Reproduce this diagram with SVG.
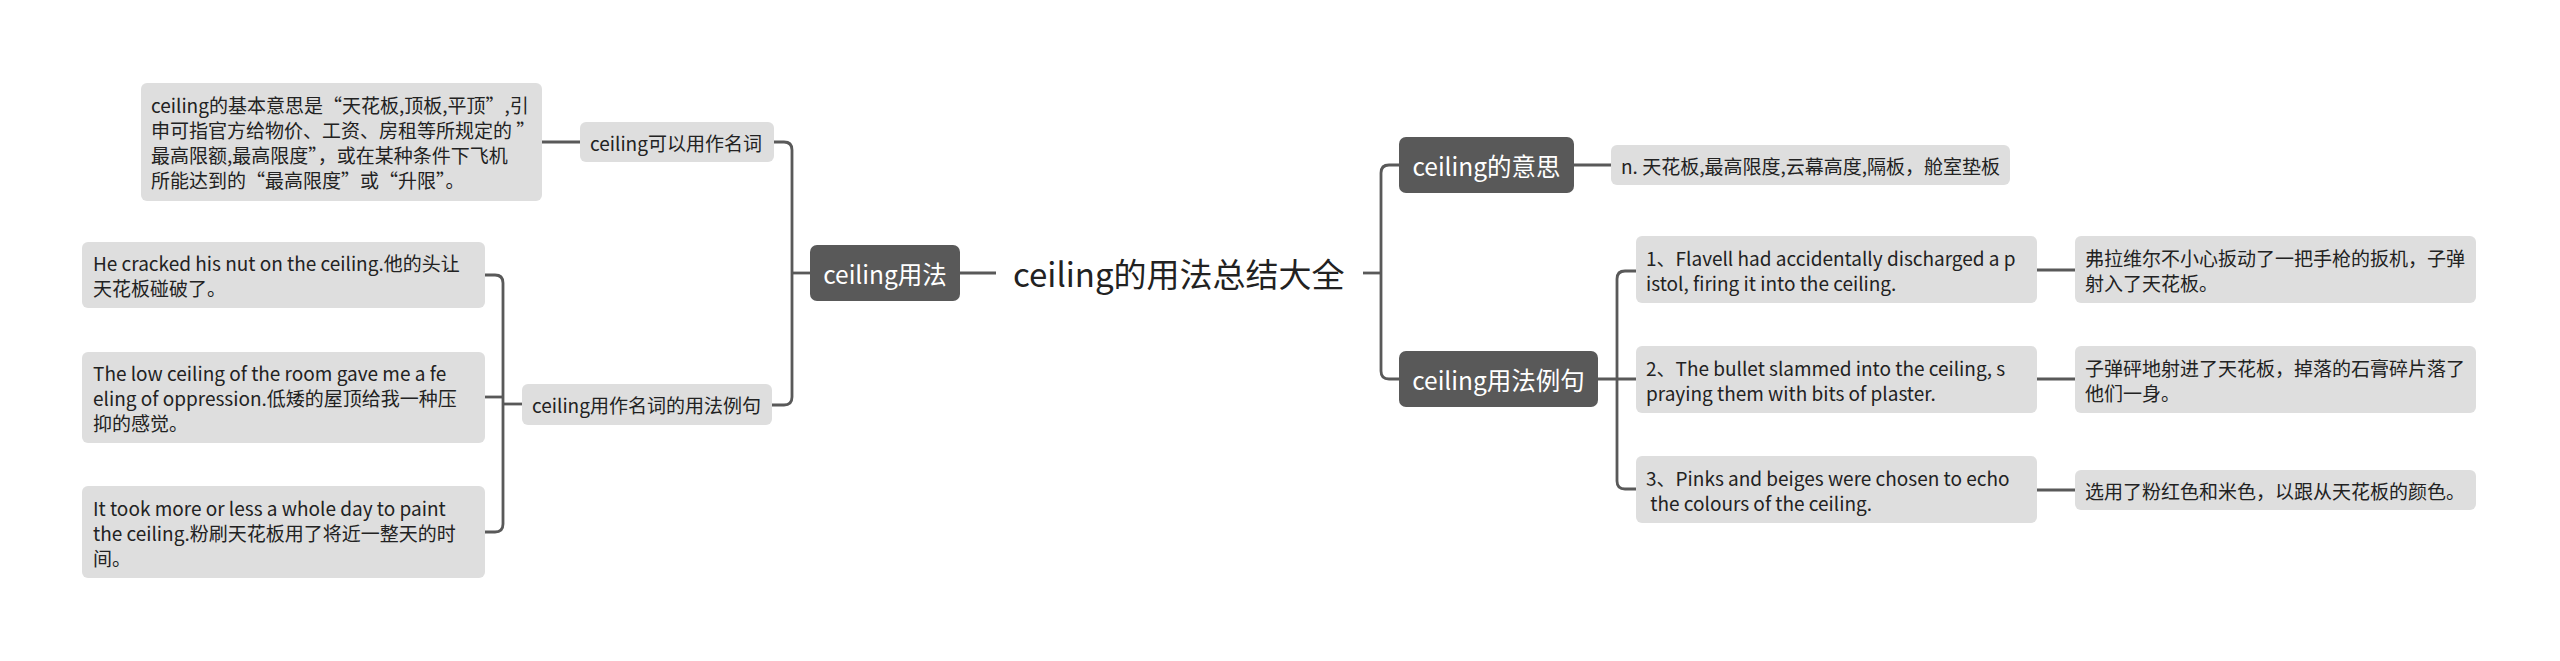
<svg xmlns="http://www.w3.org/2000/svg" width="2560" height="661" viewBox="0 0 2560 661">
<style>
.t{font-family:"Noto Sans CJK SC","Noto Sans",sans-serif;dominant-baseline:central}
.lb{fill:#dedede}
.db{fill:#595959}
.lt{font-size:19px;fill:#222}
.dt{font-size:24.5px;fill:#fff;text-anchor:middle}
.ct{font-size:33px;fill:#222}
.c{fill:none;stroke:#595959;stroke-width:2.8}
</style>
<rect width="2560" height="661" fill="#fff"/>
<g id="connectors">
<path class="c" d="M960,273 H996"/>
<path class="c" d="M1363,273 H1381"/>
<path class="c" d="M810,273 H792"/>
<path class="c" d="M792,273 V150 Q792,142 784,142 H774"/>
<path class="c" d="M792,273 V397 Q792,405 784,405 H772"/>
<path class="c" d="M580,142 H542"/>
<path class="c" d="M522,404 H503"/>
<path class="c" d="M503,404 V283 Q503,275 495,275 H485"/>
<path class="c" d="M503,397 H485"/>
<path class="c" d="M503,404 V524 Q503,532 495,532 H485"/>
<path class="c" d="M1381,273 V173 Q1381,165 1389,165 H1399"/>
<path class="c" d="M1381,273 V371 Q1381,379 1389,379 H1399"/>
<path class="c" d="M1574,165 H1611"/>
<path class="c" d="M1598,379 H1636"/>
<path class="c" d="M1617,379 V279 Q1617,271 1625,271 H1636"/>
<path class="c" d="M1617,379 V481 Q1617,489 1625,489 H1636"/>
<path class="c" d="M2037,270 H2075"/>
<path class="c" d="M2037,379 H2075"/>
<path class="c" d="M2037,490 H2075"/>
</g>
<g id="root"><text class="t ct" x="1013" y="273">ceiling的用法总结大全</text></g>
<g id="n-usage"><rect class="db" x="810" y="245" width="150" height="56" rx="7"/><text class="t dt" x="885" y="273">ceiling用法</text></g>
<g id="n-noun"><rect class="lb" x="580" y="122" width="194" height="40" rx="6"/><text class="t lt" x="590" y="142">ceiling可以用作名词</text></g>
<g id="n-basic"><rect class="lb" x="141" y="83" width="401" height="118" rx="6"/>
<text class="t lt" x="151" y="104.5">ceiling的基本意思是“天花板,顶板,平顶”,引</text>
<text class="t lt" x="151" y="129.5">申可指官方给物价、工资、房租等所规定的 ”</text>
<text class="t lt" x="151" y="154.5">最高限额,最高限度”，或在某种条件下飞机</text>
<text class="t lt" x="151" y="179.5">所能达到的“最高限度”或“升限”。</text></g>
<g id="n-examples-left"><rect class="lb" x="522" y="384" width="250" height="41" rx="6"/><text class="t lt" x="532" y="404">ceiling用作名词的用法例句</text></g>
<g id="n-ex-l1"><rect class="lb" x="82" y="242" width="403" height="66" rx="6"/>
<text class="t lt" x="93" y="262.5">He cracked his nut on the ceiling.他的头让</text>
<text class="t lt" x="93" y="287.5">天花板碰破了。</text></g>
<g id="n-ex-l2"><rect class="lb" x="82" y="352" width="403" height="91" rx="6"/>
<text class="t lt" x="93" y="372.5">The low ceiling of the room gave me a fe</text>
<text class="t lt" x="93" y="397.5">eling of oppression.低矮的屋顶给我一种压</text>
<text class="t lt" x="93" y="422.5">抑的感觉。</text></g>
<g id="n-ex-l3"><rect class="lb" x="82" y="486" width="403" height="92" rx="6"/>
<text class="t lt" x="93" y="507">It took more or less a whole day to paint</text>
<text class="t lt" x="93" y="532">the ceiling.粉刷天花板用了将近一整天的时</text>
<text class="t lt" x="93" y="557">间。</text></g>
<g id="n-meaning"><rect class="db" x="1399" y="137" width="175" height="56" rx="7"/><text class="t dt" x="1486.5" y="165">ceiling的意思</text></g>
<g id="n-meaning-def"><rect class="lb" x="1611" y="145" width="399" height="40" rx="6"/><text class="t lt" x="1621" y="165">n. 天花板,最高限度,云幕高度,隔板，舱室垫板</text></g>
<g id="n-examples-right"><rect class="db" x="1399" y="351" width="199" height="56" rx="7"/><text class="t dt" x="1498.5" y="379">ceiling用法例句</text></g>
<g id="n-ex-r1"><rect class="lb" x="1636" y="236" width="401" height="67" rx="6"/>
<text class="t lt" x="1646" y="257">1、Flavell had accidentally discharged a p</text>
<text class="t lt" x="1646" y="282">istol, firing it into the ceiling.</text></g>
<g id="n-ex-r1-cn"><rect class="lb" x="2075" y="236" width="401" height="67" rx="6"/>
<text class="t lt" x="2085" y="257">弗拉维尔不小心扳动了一把手枪的扳机，子弹</text>
<text class="t lt" x="2085" y="282">射入了天花板。</text></g>
<g id="n-ex-r2"><rect class="lb" x="1636" y="346" width="401" height="67" rx="6"/>
<text class="t lt" x="1646" y="367">2、The bullet slammed into the ceiling, s</text>
<text class="t lt" x="1646" y="392">praying them with bits of plaster.</text></g>
<g id="n-ex-r2-cn"><rect class="lb" x="2075" y="346" width="401" height="67" rx="6"/>
<text class="t lt" x="2085" y="367">子弹砰地射进了天花板，掉落的石膏碎片落了</text>
<text class="t lt" x="2085" y="392">他们一身。</text></g>
<g id="n-ex-r3"><rect class="lb" x="1636" y="456" width="401" height="67" rx="6"/>
<text class="t lt" x="1646" y="477">3、Pinks and beiges were chosen to echo</text>
<text class="t lt" x="1646" y="502" xml:space="preserve"> the colours of the ceiling.</text></g>
<g id="n-ex-r3-cn"><rect class="lb" x="2075" y="470" width="401" height="40" rx="6"/>
<text class="t lt" x="2085" y="490">选用了粉红色和米色，以跟从天花板的颜色。</text></g>
</svg>
